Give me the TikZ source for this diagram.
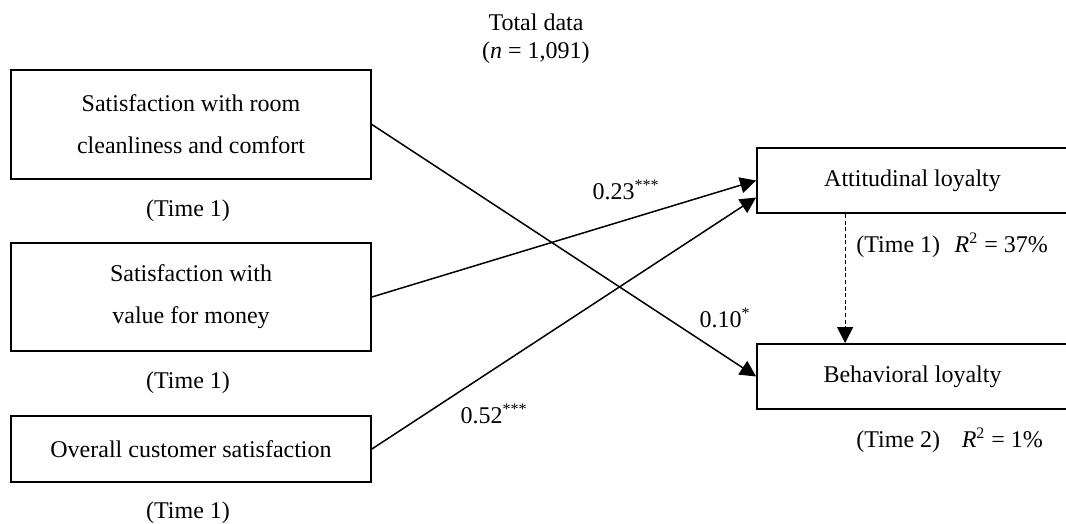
\documentclass[tikz,border=0pt]{standalone}
\usepackage{fontspec}
\setmainfont{Liberation Serif}
\usetikzlibrary{arrows.meta}
\tikzset{
  varbox/.style={draw, line width=0.9pt, align=center, inner sep=0pt, font=\fontsize{12}{21}\selectfont},
  effect/.style={-{Triangle[length=8pt, width=8pt]}, line width=0.75pt},
  lab/.style={font=\fontsize{12}{14}\selectfont, align=center, inner sep=0pt}
}
\begin{document}
\begin{tikzpicture}[x=0.5pt, y=-0.5pt]
\useasboundingbox (0,0) rectangle (1066,524);
\clip (0,0) rectangle (1066,524);
\node[lab] (total) at (536,39) {Total data\\(\textit{n} = 1,091)};
% predictors (Time 1)
\node[varbox, minimum width=180pt, minimum height=54.5pt] (room) at (191,124.5) {Satisfaction with room\\cleanliness and comfort};
\node[lab] (room time) at (188,211) {(Time 1)};
\node[varbox, minimum width=180pt, minimum height=54pt] (value) at (191,297) {Satisfaction with\\value for money};
\node[lab] (value time) at (188,383) {(Time 1)};
\node[varbox, minimum width=180pt, minimum height=33pt] (overall) at (191,449) {Overall customer satisfaction};
\node[lab] (overall time) at (188,513) {(Time 1)};
% outcomes
\node[varbox, minimum width=155.5pt, minimum height=32.5pt] (att) at (912.5,180.5) {Attitudinal loyalty};
\node[varbox, minimum width=155.5pt, minimum height=32.5pt] (beh) at (912.5,376.5) {Behavioral loyalty};
\node[lab, anchor=west] (att r2) at (856,245) {(Time 1)\hspace{0.6em}\textit{R}\textsuperscript{2} = 37\%};
\node[lab, anchor=west] (beh r2) at (856,440) {(Time 2)\hspace{0.9em}\textit{R}\textsuperscript{2} = 1\%};
% paths
\draw[effect] (room.east) -- (beh.west);
\draw[effect] (value.east) -- (att.west);
\draw[effect] (overall.east) -- ([yshift=-8.5pt]att.west);
\draw[effect, line width=0.6pt, dash pattern=on 2pt off 1.3pt] ([xshift=44.5pt]att.south west) -- ([xshift=44.5pt]beh.north west);
\node[lab] (b value) at (626,190) {0.23\textsuperscript{***}};
\node[lab] (b room) at (725,318) {0.10\textsuperscript{*}};
\node[lab] (b overall) at (494,414) {0.52\textsuperscript{***}};
\end{tikzpicture}
\end{document}
